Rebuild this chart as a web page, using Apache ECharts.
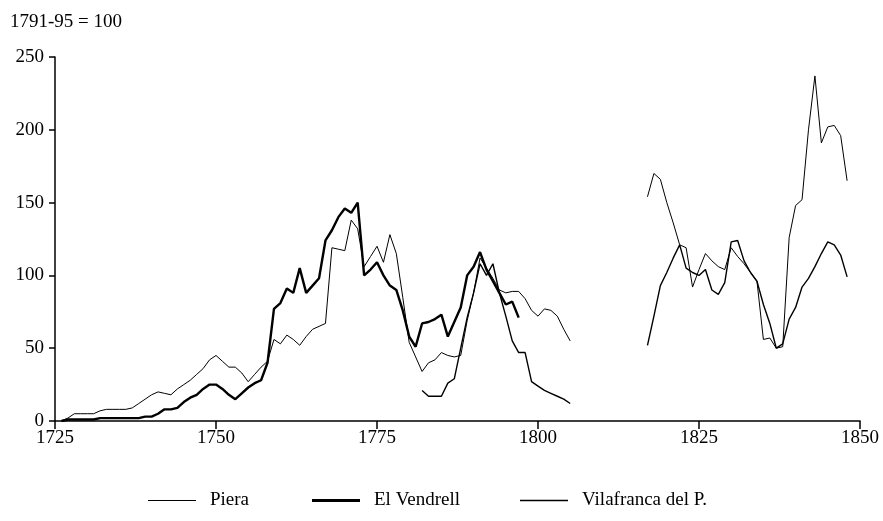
<!DOCTYPE html>
<html>
<head>
<meta charset="utf-8">
<script src="https://cdn.jsdelivr.net/npm/echarts@6/dist/echarts.min.js"></script>
<style>html,body{margin:0;padding:0;background:#fff}#c{width:883px;height:521px}</style>
</head>
<body>
<div id="c"></div>
<script>
const xTicks = [1725, 1750, 1775, 1800, 1825, 1850];
const yTicks = [0, 50, 100, 150, 200, 250];

const pieraYears = [1726,1727,1728,1729,1730,1731,1732,1733,1734,1735,1736,1737,1738,1739,1740,
  1741,1742,1743,1744,1745,1746,1747,1748,1749,1750,1751,1752,1753,1754,1755,1756,1757,1758,1759,1760,
  1761,1762,1763,1764,1765,1766,1767,1768,1769,1770,1771,1772,1773,1774,1775,1776,1777,1778,1779,1780,
  1781,1782,1783,1784,1785,1786,1787,1788,1789,1790,1791,1792,1793,1794,1795,1796,1797,1798,1799,1800,
  1801,1802,1803,1804,1805,1806,
  1817,1818,1819,1820,1821,1822,1823,1824,1825,1826,1827,1828,1829,1830,1831,1832,1833,1834,1835,1836,
  1837,1838,1839,1840,1841,1842,1843,1844,1845,1846,1847,1848];
const pieraValues = [0,2,5,5,5,5,7,8,8,8,8,9,12,15,18,
  20,19,18,22,25,28,32,36,42,45,41,37,37,33,27,32,37,41,56,53,
  59,56,52,58,63,65,67,119,118,117,138,132,106,113,120,109,128,115,85,54,
  44,34,40,42,47,45,44,45,69,88,112,105,98,90,88,89,89,84,76,72,
  77,76,72,63,55,null,
  154,170,166,150,136,121,119,92,104,115,110,106,104,119,113,108,102,96,56,57,
  50,51,126,148,152,200,237,191,202,203,196,165];

const vendrellYears = [1726,1727,1728,1729,1730,1731,1732,1733,1734,1735,1736,1737,1738,1739,1740,
  1741,1742,1743,1744,1745,1746,1747,1748,1749,1750,1751,1752,1753,1754,1755,1756,1757,1758,1759,1760,
  1761,1762,1763,1764,1765,1766,1767,1768,1769,1770,1771,1772,1773,1774,1775,1776,1777,1778,1779,1780,
  1781,1782,1783,1784,1785,1786,1787,1788,1789,1790,1791,1792,1793,1794,1795,1796,1797];
const vendrellValues = [0,1,1,1,1,1,2,2,2,2,2,2,2,3,3,
  5,8,8,9,13,16,18,22,25,25,22,18,15,19,23,26,28,40,77,81,
  91,88,105,88,93,98,124,131,140,146,143,150,100,104,109,100,93,90,76,58,
  51,67,68,70,73,58,68,78,100,106,116,104,96,88,80,82,71];

const vilafrancaYears = [1782,1783,1784,1785,1786,1787,1788,1789,1790,1791,1792,1793,1794,1795,1796,
  1797,1798,1799,1800,1801,1802,1803,1804,1805,1806,
  1817,1818,1819,1820,1821,1822,1823,1824,1825,1826,1827,1828,1829,1830,1831,1832,1833,1834,1835,1836,
  1837,1838,1839,1840,1841,1842,1843,1844,1845,1846,1847,1848];
const vilafrancaValues = [21,17,17,17,26,29,50,71,88,108,100,108,88,72,55,
  47,47,27,24,21,19,17,15,12,null,
  52,72,93,102,112,121,105,102,100,104,90,87,95,123,124,110,102,96,80,67,
  50,53,70,78,92,98,106,115,123,121,114,99];

function pairs(xs, ys) { return xs.map((x, i) => [x, ys[i]]); }

const FONT = '"Liberation Serif", "DejaVu Serif", serif';
const chart = echarts.init(document.getElementById('c'), null, {renderer: 'canvas'});
function legendFor(name, left, h) {
  return {
    orient: 'horizontal', top: 486, left: left, itemWidth: 48, itemHeight: h, icon: 'rect',
    textStyle: {fontFamily: FONT, fontSize: 19, color: '#000', padding: [0, 0, 0, 9]},
    selectedMode: false, data: [name]
  };
}
chart.setOption({
  animation: false,
  backgroundColor: '#fff',
  title: {
    text: '1791-95 = 100', left: 5, top: 8,
    textStyle: {fontFamily: FONT, fontSize: 19, fontWeight: 'normal', color: '#000'}
  },
  legend: [
    legendFor('Piera', 143, 1),
    legendFor('El Vendrell', 307, 3),
    legendFor('Vilafranca del P.', 515, 1.5)
  ],
  grid: {left: 55, right: 23, top: 57, bottom: 100, containLabel: false},
  xAxis: {
    type: 'value', min: xTicks[0], max: xTicks[xTicks.length - 1], interval: 25,
    axisLine: {show: true, lineStyle: {color: '#000', width: 1.5}},
    axisTick: {show: true, length: 8, lineStyle: {color: '#000', width: 1.5}},
    axisLabel: {fontFamily: FONT, fontSize: 19, color: '#000', margin: 8, formatter: v => String(v)},
    splitLine: {show: false}
  },
  yAxis: {
    type: 'value', min: yTicks[0], max: yTicks[yTicks.length - 1], interval: 50,
    axisLine: {show: true, lineStyle: {color: '#000', width: 1.5}},
    axisTick: {show: true, length: 6, lineStyle: {color: '#000', width: 1.5}},
    axisLabel: {fontFamily: FONT, fontSize: 19, color: '#000', margin: 11, formatter: v => String(v)},
    splitLine: {show: false}
  },
  series: [
    {name: 'Piera', type: 'line', data: pairs(pieraYears, pieraValues), showSymbol: false, symbol: 'none',
     connectNulls: false, lineStyle: {color: '#000', width: 1}, itemStyle: {color: '#000'}},
    {name: 'El Vendrell', type: 'line', data: pairs(vendrellYears, vendrellValues), showSymbol: false, symbol: 'none',
     lineStyle: {color: '#000', width: 2.4}, itemStyle: {color: '#000'}},
    {name: 'Vilafranca del P.', type: 'line', data: pairs(vilafrancaYears, vilafrancaValues), showSymbol: false, symbol: 'none',
     connectNulls: false, lineStyle: {color: '#000', width: 1.4}, itemStyle: {color: '#000'}}
  ]
});
</script>
</body>
</html>
